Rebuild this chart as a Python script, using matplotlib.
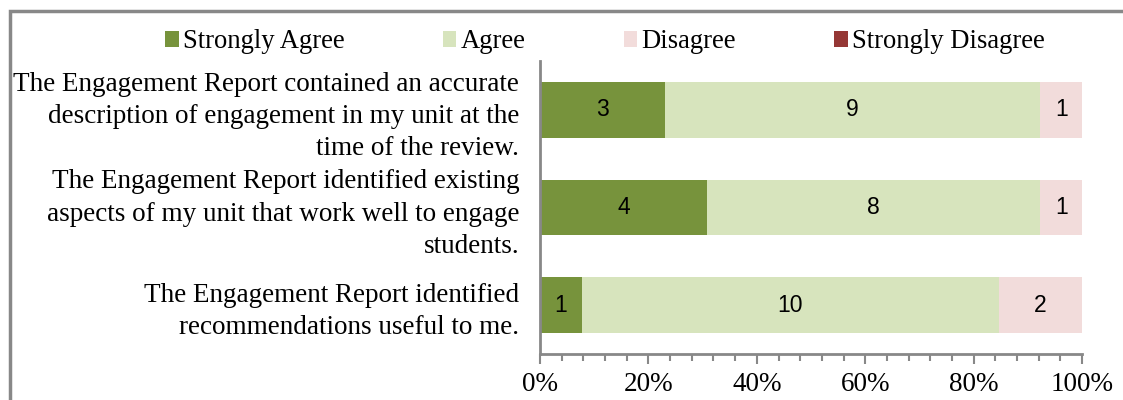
import matplotlib
matplotlib.use("Agg")
import matplotlib.pyplot as plt
from matplotlib.patches import Rectangle
from matplotlib.ticker import MultipleLocator, FuncFormatter
import numpy as np

statements = [
    "The Engagement Report contained an accurate\ndescription of engagement in my unit at the\ntime of the review.",
    "The Engagement Report identified existing\naspects of my unit that work well to engage\nstudents.",
    "The Engagement Report identified\nrecommendations useful to me.",
]
levels = ["Strongly Agree", "Agree", "Disagree", "Strongly Disagree"]
strongly_agree = [3, 4, 1]
agree = [9, 8, 10]
disagree = [1, 1, 2]
strongly_disagree = [0, 0, 0]
colors = ["#77933C", "#D7E4BD", "#F2DCDB", "#953735"]

counts = np.array([strongly_agree, agree, disagree, strongly_disagree], dtype=float)
totals = counts.sum(axis=0)
shares = counts / totals

fig = plt.figure(figsize=(11.23, 4.0), dpi=100)
ax = fig.add_axes([0.4809, 0.115, 0.4826, 0.7325])

ypos = np.arange(len(statements))
left = np.zeros(len(statements))
for i, lev in enumerate(levels):
    ax.barh(ypos, shares[i], left=left, height=0.57, color=colors[i], label=lev, zorder=2)
    for j in range(len(statements)):
        if counts[i, j] > 0:
            ax.text(left[j] + shares[i, j] / 2, ypos[j], str(int(counts[i, j])),
                    ha="center", va="center", fontsize=16.5, family="Liberation Sans")
    left = left + shares[i]

ax.set_ylim(2.5, -0.5)
ax.set_xlim(0, 1)
ax.set_yticks(ypos)
ax.set_yticklabels(statements, family="Liberation Serif", fontsize=19.5, linespacing=1.38)
ax.tick_params(axis="y", length=0, pad=15)

ax.xaxis.set_major_locator(MultipleLocator(0.2))
ax.xaxis.set_minor_locator(MultipleLocator(0.04))
ax.xaxis.set_major_formatter(FuncFormatter(lambda v, p: f"{v*100:.0f}%"))
ax.tick_params(axis="x", which="major", length=7, width=1.5, color="#888888", pad=6)
ax.tick_params(axis="x", which="minor", length=5, width=1.5, color="#888888")
for lab in ax.get_xticklabels():
    lab.set_family("Liberation Serif")
    lab.set_fontsize(19.5)

for s in ["top", "right"]:
    ax.spines[s].set_visible(False)
for s in ["left", "bottom"]:
    ax.spines[s].set_color("#888888")
    ax.spines[s].set_linewidth(2)

leg = fig.legend(loc="center left", bbox_to_anchor=(0.126, 0.895), ncol=4, frameon=False,
                 prop={"family": "Liberation Serif", "size": 19.2}, handlelength=0.5,
                 handleheight=0.5, handletextpad=0.15, columnspacing=3.7)

fig.patches.append(Rectangle((10 / 1123, -0.1), 1.2, 0.1 + 389 / 400, transform=fig.transFigure,
                             fill=False, edgecolor="#888888", linewidth=2.5, clip_on=False))

fig.savefig("out.png", dpi=100)
